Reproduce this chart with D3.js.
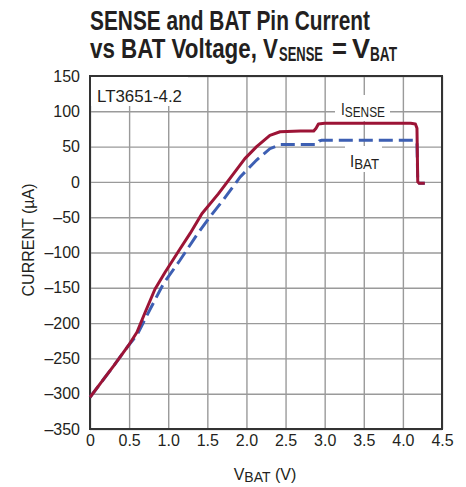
<!DOCTYPE html>
<html>
<head>
<meta charset="utf-8">
<script src="https://cdn.jsdelivr.net/npm/d3@7"></script>
<style>
  body { margin: 0; background: #fff; }
  svg text { font-family: "Liberation Sans", Arial, sans-serif; fill: #231f20; }
</style>
</head>
<body>
<div id="chart"></div>
<script>
(function(){

// SENSE pin current (uA) vs BAT voltage (V)
var senseV = [0, 0.15, 0.3, 0.49, 0.6, 0.7, 0.83, 0.96, 1.15, 1.28, 1.43, 1.64, 1.79, 1.98, 2.13, 2.3, 2.43, 2.69, 2.86, 2.89, 2.92, 3.0, 3.5, 4.1, 4.16, 4.18, 4.19, 4.21, 4.28];
var senseI = [-305, -283, -261, -232, -213, -186, -152, -128, -95, -73, -45, -17, 5, 33, 50, 66, 71, 72, 72, 76, 82, 83, 83, 83, 82, 76, 0, -2, -2];

// BAT pin current (uA)
var batV = [0, 0.3, 0.49, 0.6, 0.77, 0.94, 1.15, 1.36, 1.53, 1.7, 1.92, 2.13, 2.3, 2.43, 2.69, 2.9, 2.93, 2.96, 3.5, 4.15, 4.18, 4.19, 4.21, 4.28];
var batI = [-305, -261, -232, -217, -180, -144, -111, -76, -50, -26, 7, 31, 47, 53, 53, 53, 58, 59, 59, 59, 56, 0, -2, -2];

var xTicks = [0, 0.5, 1.0, 1.5, 2.0, 2.5, 3.0, 3.5, 4.0, 4.5];
var yTicks = [150, 100, 50, 0, -50, -100, -150, -200, -250, -300, -350];

window.onload = drawChart;

function drawChart(){

    var width = 466, height = 487;
    var left = 90, right = 442, top = 76, bottom = 429;

    var svg = d3.select("#chart")
        .append("svg")
        .attr("width", width)
        .attr("height", height);

    var x = d3.scaleLinear().domain([0, 4.5]).range([left, right]);
    var y = d3.scaleLinear().domain([-350, 150]).range([bottom, top]);

    //title, squeezed to the condensed face of the original
    function squeezed(tx, ty, size, len, str){
        return svg.append("text")
            .attr("x", tx).attr("y", ty)
            .attr("font-size", size).attr("font-weight", "bold")
            .attr("textLength", len).attr("lengthAdjust", "spacingAndGlyphs")
            .text(str);
    }
    squeezed(90, 30, 28, 280, "SENSE and BAT Pin Current");
    squeezed(90, 58, 28, 188, "vs BAT Voltage, V");
    squeezed(279, 61, 20, 44, "SENSE");
    squeezed(332, 58, 28, 15, "=");
    squeezed(352, 58, 28, 18, "V");
    squeezed(370, 61, 20, 27, "BAT");

    //grid + labels
    var minus = function(d){ return (d < 0 ? "\u2013" + Math.abs(d) : d); };

    var xAxis = svg.append("g")
        .attr("transform", "translate(0," + bottom + ")")
        .call(d3.axisBottom(x).tickValues(xTicks)
            .tickSizeInner(-(bottom - top)).tickSizeOuter(0).tickPadding(6)
            .tickFormat(function(d){ return d === 0 ? "0" : d3.format(".1f")(d); }));

    var yAxis = svg.append("g")
        .attr("transform", "translate(" + left + ",0)")
        .call(d3.axisLeft(y).tickValues(yTicks)
            .tickSizeInner(-(right - left)).tickSizeOuter(0).tickPadding(10)
            .tickFormat(minus));

    [xAxis, yAxis].forEach(function(a){
        a.select(".domain").remove();
        a.selectAll("line").attr("stroke", "#9a9a9a").attr("stroke-width", 1.4);
        a.selectAll("text").attr("font-size", 16).attr("fill", "#231f20")
            .attr("font-family", "'Liberation Sans', Arial, sans-serif");
    });

    //label backgrounds
    svg.append("rect").attr("x", 91).attr("y", 77).attr("width", 97).attr("height", 29).attr("fill", "#fff");
    svg.append("rect").attr("x", 335).attr("y", 95).attr("width", 55).attr("height", 26).attr("fill", "#fff");
    svg.append("rect").attr("x", 345).attr("y", 146).attr("width", 37).attr("height", 26).attr("fill", "#fff");

    //frame
    svg.append("rect")
        .attr("x", left).attr("y", top)
        .attr("width", right - left).attr("height", bottom - top)
        .attr("fill", "none").attr("stroke", "#333").attr("stroke-width", 2);

    //curves
    var line = d3.line()
        .x(function(d){ return x(d[0]); })
        .y(function(d){ return y(d[1]); });

    svg.append("path")
        .datum(d3.zip(batV, batI))
        .attr("d", line)
        .attr("fill", "none")
        .attr("stroke", "#3d5fb3")
        .attr("stroke-width", 3)
        .attr("stroke-dasharray", "14,6");

    svg.append("path")
        .datum(d3.zip(senseV, senseI))
        .attr("d", line)
        .attr("fill", "none")
        .attr("stroke", "#9c1436")
        .attr("stroke-width", 3)
        .attr("stroke-linejoin", "round");

    //annotations
    svg.append("text").attr("x", 97).attr("y", 102).attr("font-size", 16)
        .attr("textLength", 85).attr("lengthAdjust", "spacingAndGlyphs").text("LT3651-4.2");

    var s = svg.append("text").attr("x", 341).attr("y", 115).attr("font-size", 17)
        .attr("textLength", 44).attr("lengthAdjust", "spacingAndGlyphs");
    s.append("tspan").text("I");
    s.append("tspan").attr("font-size", 15).attr("dy", 2).text("SENSE");

    var b = svg.append("text").attr("x", 350).attr("y", 167).attr("font-size", 17)
        .attr("textLength", 29).attr("lengthAdjust", "spacingAndGlyphs");
    b.append("tspan").text("I");
    b.append("tspan").attr("font-size", 15).attr("dy", 2).text("BAT");

    //axis titles
    var xt = svg.append("text").attr("x", 265).attr("y", 480)
        .attr("text-anchor", "middle").attr("font-size", 16);
    xt.append("tspan").text("V");
    xt.append("tspan").attr("font-size", 14).attr("dy", 2).text("BAT");
    xt.append("tspan").attr("dy", -2).text(" (V)");

    svg.append("text")
        .attr("transform", "translate(34,240) rotate(-90)")
        .attr("text-anchor", "middle").attr("font-size", 16)
        .text("CURRENT (\u00b5A)");
};

})();
</script>
</body>
</html>
